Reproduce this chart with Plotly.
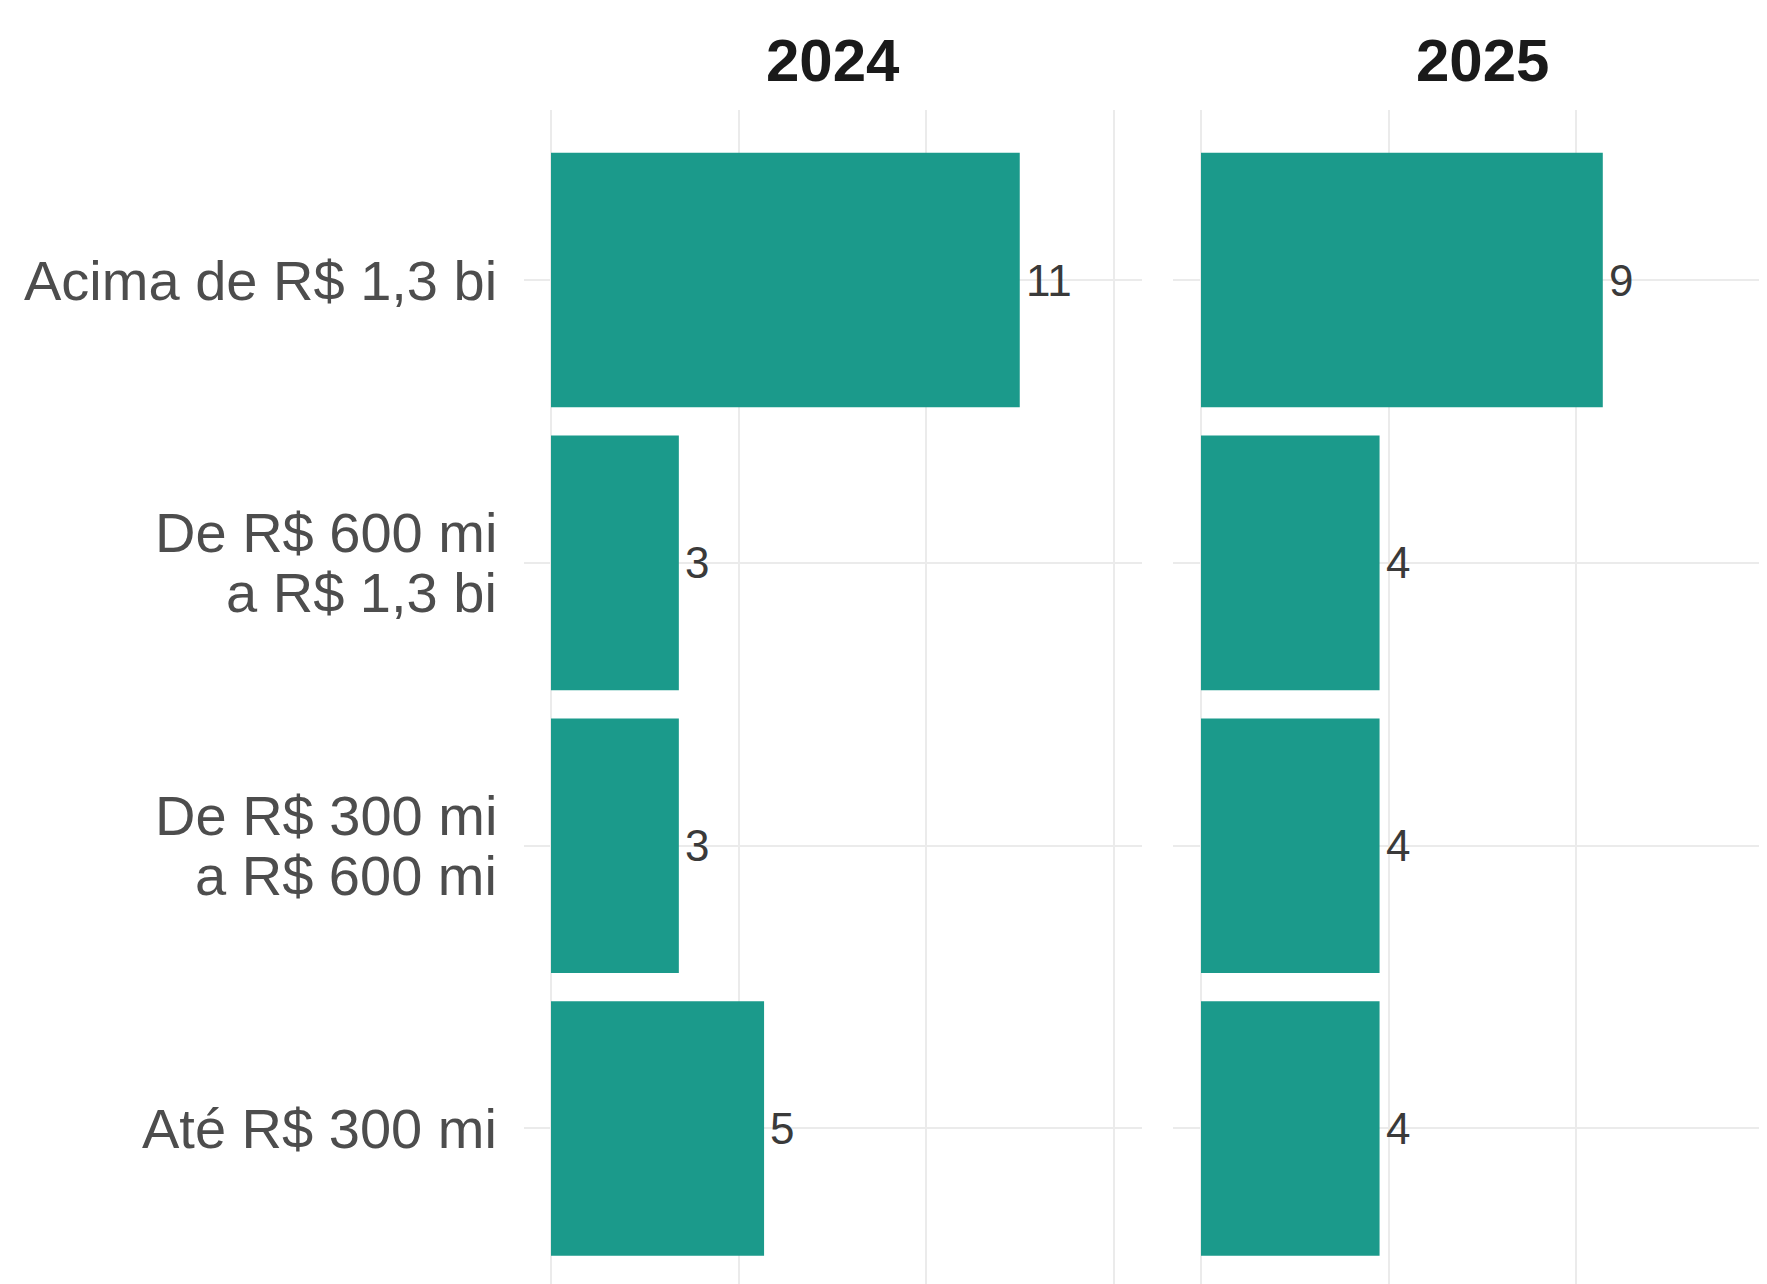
import plotly.graph_objects as go

categories = ["Acima de R$ 1,3 bi", "De R$ 600 mi<br>a R$ 1,3 bi", "De R$ 300 mi<br>a R$ 600 mi", "Até R$ 300 mi"]
years = ["2024", "2025"]
counts_2024 = [11, 3, 3, 5]
counts_2025 = [9, 4, 4, 4]
x_ticks = [0, 0.2, 0.4, 0.6]

BAR = "#1B9A8B"
GRID = "#EBEBEB"
FONT = "Liberation Sans, Arial, sans-serif"
W, H = 1767, 1284
OFF = 8  # page body margin

px_per = 937.5
o1, o2 = 551 - OFF, 1201 - OFF
l1, r1 = 524 - OFF, 1141.5 - OFF
l2, r2 = 1173 - OFF, W
top = 110.4 - OFF
cat_px = 282.8
y_top = 3.6
y_bot = y_top - (H - top) / cat_px

fig = go.Figure()
for i, counts in enumerate([counts_2024, counts_2025]):
    total = sum(counts)
    share = [c / total for c in counts]
    xa = "x" if i == 0 else "x2"
    ya = "y" if i == 0 else "y2"
    fig.add_trace(go.Bar(
        x=share, y=categories, orientation="h", width=0.9,
        marker=dict(color=BAR, line=dict(width=0)),
        showlegend=False, xaxis=xa, yaxis=ya, hoverinfo="skip",
    ))
    for s, c, cat in zip(share, counts, categories):
        fig.add_annotation(x=s, y=cat, xref=xa, yref=ya, text=str(c), showarrow=False,
                           xanchor="left", yanchor="middle", xshift=4,
                           font=dict(family=FONT, size=44, color="#3A3A3A"))

# category labels (one annotation per text line for tighter line spacing)
for cat in categories:
    lines = cat.split("<br>")
    n = len(lines)
    for j, ln in enumerate(lines):
        shift = (n - 1) / 2 * 60 - j * 60
        fig.add_annotation(x=(l1 - 25) / W, y=cat, xref="paper", yref="y", text=ln,
                           showarrow=False, xanchor="right", yanchor="middle", yshift=shift,
                           font=dict(family=FONT, size=56, color="#4D4D4D"))

xcommon = dict(tickvals=x_ticks, showticklabels=False, showgrid=True, gridcolor=GRID,
               gridwidth=2, zeroline=True, zerolinecolor=GRID, zerolinewidth=2,
               showline=False, ticks="", fixedrange=True)
ycommon = dict(type="category", categoryorder="array", categoryarray=categories[::-1],
               range=[y_bot, y_top], showgrid=True, gridcolor=GRID, gridwidth=2,
               zeroline=False, showline=False, showticklabels=False, ticks="",
               domain=[0, (H - top) / H])

fig.update_layout(
    width=W, height=H, margin=dict(l=0, r=0, t=0, b=0),
    paper_bgcolor="white", plot_bgcolor="white", bargap=0.1,
    font=dict(family=FONT),
    xaxis=dict(domain=[l1 / W, r1 / W], range=[(l1 - o1) / px_per, (r1 - o1) / px_per], anchor="y", **xcommon),
    xaxis2=dict(domain=[l2 / W, r2 / W], range=[(l2 - o2) / px_per, (r2 - o2) / px_per], anchor="y2", **xcommon),
    yaxis=dict(anchor="x", **ycommon),
    yaxis2=dict(anchor="x2", **ycommon),
)

title_x = [(l1 + r1) / 2, 1482 - OFF]
for yr, tx in zip(years, title_x):
    fig.add_annotation(text=f"<b>{yr}</b>", x=tx / W, y=(H - (61 - OFF)) / H, xref="paper", yref="paper",
                       xanchor="center", yanchor="middle", showarrow=False,
                       font=dict(family=FONT, size=60, color="#1A1A1A"))

fig.write_html("out.html")
